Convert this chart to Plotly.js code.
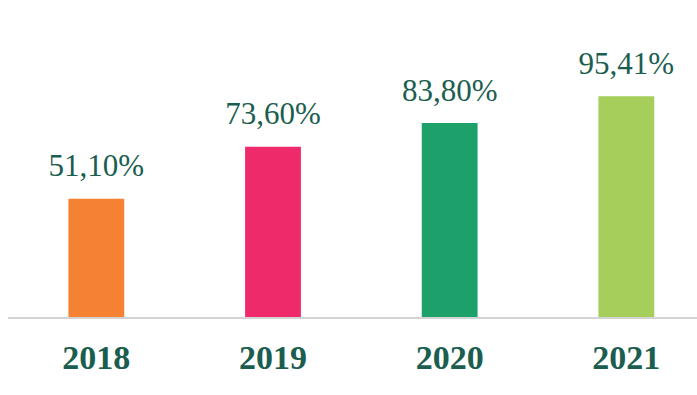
<!DOCTYPE html>
<html>
<head>
<meta charset="utf-8">
<script src="https://cdn.plot.ly/plotly-3.0.1.min.js"></script>
<style>html,body{margin:0;padding:0;background:#fff;}#chart{width:697px;height:395px;}</style>
</head>
<body>
<div id="chart"></div>
<script>
const years = ["2018", "2019", "2020", "2021"];
const values = [51.10, 73.60, 83.80, 95.41];
const labels = ["51,10%", "73,60%", "83,80%", "95,41%"];
const colors = ["#F58233", "#EE2A6A", "#1DA06A", "#A5CE5B"];
const textColor = "#1B5E50";

const bars = {
  type: "bar",
  x: years,
  y: values,
  marker: {color: colors},
  width: 0.316,
  hoverinfo: "none"
};

const texts = {
  type: "scatter",
  mode: "markers+text",
  x: years,
  y: values,
  text: labels,
  marker: {size: 22, color: "rgba(0,0,0,0)"},
  textposition: "top center",
  textfont: {family: "Liberation Serif, serif", size: 31, color: textColor},
  cliponaxis: false,
  hoverinfo: "none"
};

const layout = {
  width: 697, height: 395,
  margin: {l: 8, r: 0, t: 0, b: 78},
  paper_bgcolor: "#fff", plot_bgcolor: "#fff",
  showlegend: false,
  xaxis: {
    type: "category",
    range: [-0.5, 3.4],
    showline: true, linecolor: "#D3D3D3", linewidth: 2,
    showgrid: false, zeroline: false,
    ticks: "outside", ticklen: 9, tickcolor: "rgba(0,0,0,0)",
    tickfont: {family: "Liberation Serif, serif", size: 34, color: textColor, weight: "bold"}
  },
  yaxis: {
    range: [0, 137],
    showgrid: false, zeroline: false, showline: false, showticklabels: false, ticks: ""
  }
};

Plotly.newPlot("chart", [bars, texts], layout, {displayModeBar: false, staticPlot: true});
</script>
</body>
</html>
